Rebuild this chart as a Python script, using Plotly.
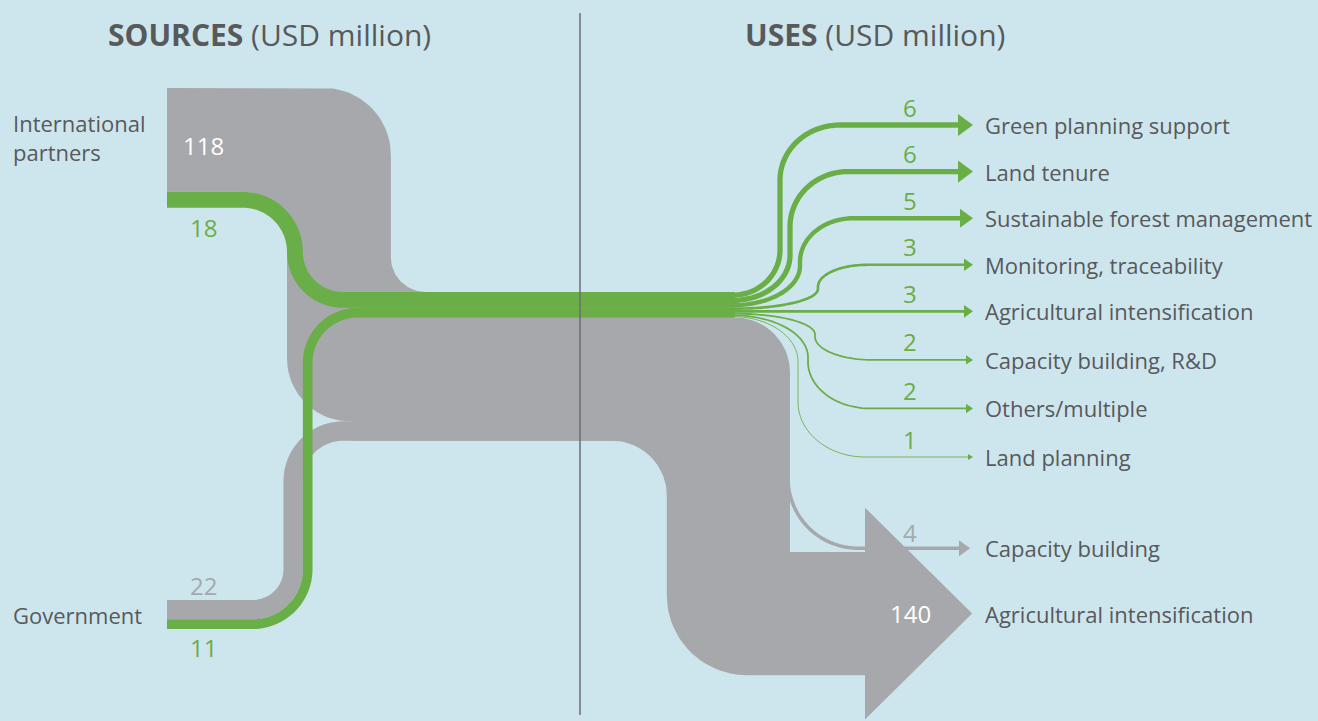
import math
import numpy as np
import plotly.graph_objects as go

# ---- data (USD million) ----
SOURCES = ["International<br>partners", "Government"]
SOURCE_GREY = [118, 22]        # other spending per source
SOURCE_GREEN = [18, 11]        # green spending per source
GREEN_USES = ["Green planning support", "Land tenure", "Sustainable forest management",
              "Monitoring, traceability", "Agricultural intensification",
              "Capacity building, R&D", "Others/multiple", "Land planning"]
GREEN_VALUES = [6, 6, 5, 3, 3, 2, 2, 1]
GREY_USES = ["Capacity building", "Agricultural intensification"]
GREY_VALUES = [4, 140]

# ---- style ----
BG = "#cde6ed"
GREY = "#a7a8ab"
GREEN = "#69ae46"
TEXT = "#58595b"
DIVIDER = "#6d6e70"
FONT = "Open Sans"
K = 0.88                       # px per USD million

# ---- layout anchors (px, y pointing down) ----
W, H = 1318, 721
X_SRC, Y_INTL, Y_GOV = 167, 88, 600
X_TURN = 287                   # where the source bands turn down / up
Y_BAND = 292                   # top of the merged horizontal band
X_FAN = 733                    # where the green band fans out
X_DOWN_R = 790                 # right edge of the grey down-shaft
Y_SHAFT = 552                  # top of the big arrow shaft
X_HEAD = 865
X_TIP = 973
X_LABEL = 985
X_VAL = 910
ROW_TOP, ROW_BOTTOM = 125, 457
STRAIGHT = 4                   # fan row that stays level with the band
FAN_BEND_X = [780, 790, 800, 818, None, 815, 808, 798]
X_DIV = 580


def rounded(pts, corners, closed=False, n=24):
    """Axis-aligned polyline with elliptic fillets; corners[i] = r or (a, b)."""
    xs, ys = [], []
    N = len(pts)
    for i, (x, y) in enumerate(pts):
        c = corners[i]
        a, b = (c, c) if np.isscalar(c) else c
        if (not closed and i in (0, N - 1)) or (a == 0 and b == 0):
            xs.append(x); ys.append(y); continue
        px, py = pts[i - 1]
        qx, qy = pts[(i + 1) % N]
        li, lo = math.hypot(x - px, y - py), math.hypot(qx - x, qy - y)
        dix, diy = (x - px) / li, (y - py) / li
        dox, doy = (qx - x) / lo, (qy - y) / lo
        cx, cy = x - dix * a + dox * b, y - diy * a + doy * b
        for t in np.linspace(0, np.pi / 2, n):
            xs.append(cx - dox * b * np.cos(t) + dix * a * np.sin(t))
            ys.append(cy - doy * b * np.cos(t) + diy * a * np.sin(t))
    if closed:
        xs.append(xs[0]); ys.append(ys[0])
    return xs, ys


fig = go.Figure()


def band(xs, ys, width, color):
    fig.add_trace(go.Scatter(x=xs, y=ys, mode="lines", hoverinfo="skip",
                             line=dict(width=width, color=color, simplify=False)))


def poly(xs, ys, color):
    fig.add_trace(go.Scatter(x=xs, y=ys, mode="lines", fill="toself", fillcolor=color,
                             line=dict(width=0, color=color), hoverinfo="skip"))


def head(x_tip, y, v, color):
    hh, hl = 1.5 + 1.6 * v, 3 + 2 * v
    poly([x_tip - hl, x_tip, x_tip - hl, x_tip - hl], [y - hh, y, y + hh, y - hh], color)
    return hl


# widths from values
w_ig, w_gg = SOURCE_GREY[0] * K, SOURCE_GREY[1] * K
w_ie, w_ge = SOURCE_GREEN[0] * K, SOURCE_GREEN[1] * K
w_trunk = sum(SOURCE_GREY) * K
green_bottom = Y_BAND + w_ie + w_ge
x_right = X_TURN + w_ig
y_intl_bottom = green_bottom + w_ig

# grey: small capacity-building arrow (behind the trunk)
w_cb = GREY_VALUES[0] * K
y_cb = Y_SHAFT - w_cb / 2 - 2
hl = head(X_TIP - 3, y_cb, GREY_VALUES[0], GREY)
xs, ys = rounded([(X_DOWN_R - 2, Y_BAND + 150), (X_DOWN_R - 2, y_cb), (X_TIP - 3 - hl + 1, y_cb)],
                 [0, 70, 0])
band(xs, ys, w_cb, GREY)

# grey: government band
xv_ge = X_TURN + w_ie + w_ge / 2
xv_gg = xv_ge - w_ge / 2 - w_gg / 2
y_gg = y_intl_bottom + w_gg / 2
xs, ys = rounded([(X_SRC, Y_GOV + w_gg / 2), (xv_gg, Y_GOV + w_gg / 2), (xv_gg, y_gg), (700, y_gg)],
                 [0, 55 - (xv_ge - xv_gg), 50, 0])
band(xs, ys, w_gg, GREY)

# grey: international band + trunk + big arrow
head_extra, head_len = 0.36 * w_trunk, 0.87 * w_trunk
x_shaft_l = X_DOWN_R - w_trunk
y_shaft_b = Y_SHAFT + w_trunk
x_step = X_TURN + 66
pts = [(X_SRC, Y_INTL), (x_right, Y_INTL), (x_right, Y_BAND), (X_FAN, Y_BAND),
       (X_FAN, green_bottom), (X_DOWN_R, green_bottom), (X_DOWN_R, Y_SHAFT),
       (X_HEAD, Y_SHAFT), (X_HEAD, Y_SHAFT - head_extra),
       (X_HEAD + head_len, Y_SHAFT + w_trunk / 2),
       (X_HEAD, y_shaft_b + head_extra), (X_HEAD, y_shaft_b), (x_shaft_l, y_shaft_b),
       (x_shaft_l, y_intl_bottom + w_gg), (x_step, y_intl_bottom + w_gg),
       (x_step, y_intl_bottom), (X_TURN, y_intl_bottom), (X_TURN, Y_INTL + w_ig),
       (X_SRC, Y_INTL + w_ig)]
corners = [0, 67, 35, 0, 0, 55, 0, 0, 0, 0, 0, 0, 80, 55, 0, 0, 63, 44, 0]
xs, ys = rounded(pts, corners, closed=True)
poly(xs, ys, GREY)

# green: source bands into the merged band
y0 = Y_INTL + w_ig + w_ie / 2
y1 = Y_BAND + w_ie / 2
xv = X_TURN + w_ie / 2
r = (y1 - y0) / 2
xs, ys = rounded([(X_SRC, y0), (xv, y0), (xv, y1), (X_FAN + 2, y1)], [0, r + 2, r - 2, 0])
band(xs, ys, w_ie, GREEN)
y0 = Y_GOV + w_gg + w_ge / 2
y1 = Y_BAND + w_ie + w_ge / 2
xs, ys = rounded([(X_SRC, y0), (xv_ge, y0), (xv_ge, y1), (X_FAN + 2, y1)], [0, 55, 50, 0])
band(xs, ys, w_ge, GREEN)

# green: fan out to uses
widths = [v * K for v in GREEN_VALUES]
y = Y_BAND + (w_ie + w_ge - sum(widths)) / 2
starts = []
for w in widths:
    starts.append(y + w / 2)
    y += w
anchor = starts[STRAIGHT]
n = len(GREEN_VALUES)
rows = [anchor - (STRAIGHT - i) * (anchor - ROW_TOP) / STRAIGHT if i <= STRAIGHT
        else anchor + (i - STRAIGHT) * (ROW_BOTTOM - anchor) / (n - 1 - STRAIGHT)
        for i in range(n)]
for i, v in enumerate(GREEN_VALUES):
    ys0, ye = starts[i], rows[i]
    hl = head(X_TIP, ye, v, GREEN)
    x_end = X_TIP - hl + 1
    if FAN_BEND_X[i] is None:
        xs, ys = [X_FAN, x_end], [ys0, ye]
    else:
        xb = FAN_BEND_X[i]
        dy = abs(ye - ys0)
        c1 = (xb - X_FAN, min(45, 0.45 * dy))
        c2 = (min(55, 0.5 * dy), min(60, 45 + 0.1 * dy) + (8 if ye > ys0 else 0))
        xs, ys = rounded([(X_FAN, ys0), (xb, ys0), (xb, ye), (x_end, ye)], [0, c1, c2, 0])
    band(xs, ys, widths[i], GREEN)

# ---- text ----
ann = []


def label(x, y, text, color=TEXT, size=22, anchor="left"):
    ann.append(dict(x=x, y=y, xref="x", yref="y", text=text, showarrow=False,
                    xanchor=anchor, yanchor="middle", align=anchor,
                    font=dict(family=FONT, size=size, color=color)))


label(269, 34, "<b>SOURCES</b> (USD million)", size=30, anchor="center")
label(875, 34, "<b>USES</b> (USD million)", size=30, anchor="center")
label(11, Y_INTL + 49, SOURCES[0])
label(11, Y_GOV + (w_gg + w_ge) / 2, SOURCES[1])
label(X_SRC + 36, Y_INTL + 57, str(SOURCE_GREY[0]), "white", 24, "center")
label(X_SRC + 36, Y_INTL + w_ig + w_ie + 20, str(SOURCE_GREEN[0]), GREEN, 24, "center")
label(X_SRC + 36, Y_GOV - 15, str(SOURCE_GREY[1]), GREY, 24, "center")
label(X_SRC + 36, Y_GOV + w_gg + w_ge + 18, str(SOURCE_GREEN[1]), GREEN, 24, "center")
for i, (u, v) in enumerate(zip(GREEN_USES, GREEN_VALUES)):
    label(X_LABEL - 2, rows[i], u)
    label(X_VAL, rows[i] - 18, str(v), GREEN, 24, "center")
label(X_LABEL - 2, y_cb, GREY_USES[0])
label(X_VAL, y_cb - 16, str(GREY_VALUES[0]), GREY, 24, "center")
label(X_LABEL - 2, Y_SHAFT + w_trunk / 2, GREY_USES[1])
label(X_VAL, Y_SHAFT + w_trunk / 2, str(GREY_VALUES[1]), "white", 24, "center")

fig.update_layout(
    width=W, height=H, margin=dict(l=0, r=0, t=0, b=0, pad=0),
    paper_bgcolor=BG, plot_bgcolor=BG, showlegend=False, annotations=ann,
    xaxis=dict(range=[0, W], visible=False, fixedrange=True),
    yaxis=dict(range=[H, 0], visible=False, fixedrange=True),
    shapes=[dict(type="line", xref="x", yref="y", x0=X_DIV, x1=X_DIV, y0=13, y1=715,
                 line=dict(color=DIVIDER, width=1.5), layer="above")],
)
fig.write_html("out.html", config={"displayModeBar": False},
               post_script="document.body.style.margin='0';document.body.style.overflow='hidden';")
